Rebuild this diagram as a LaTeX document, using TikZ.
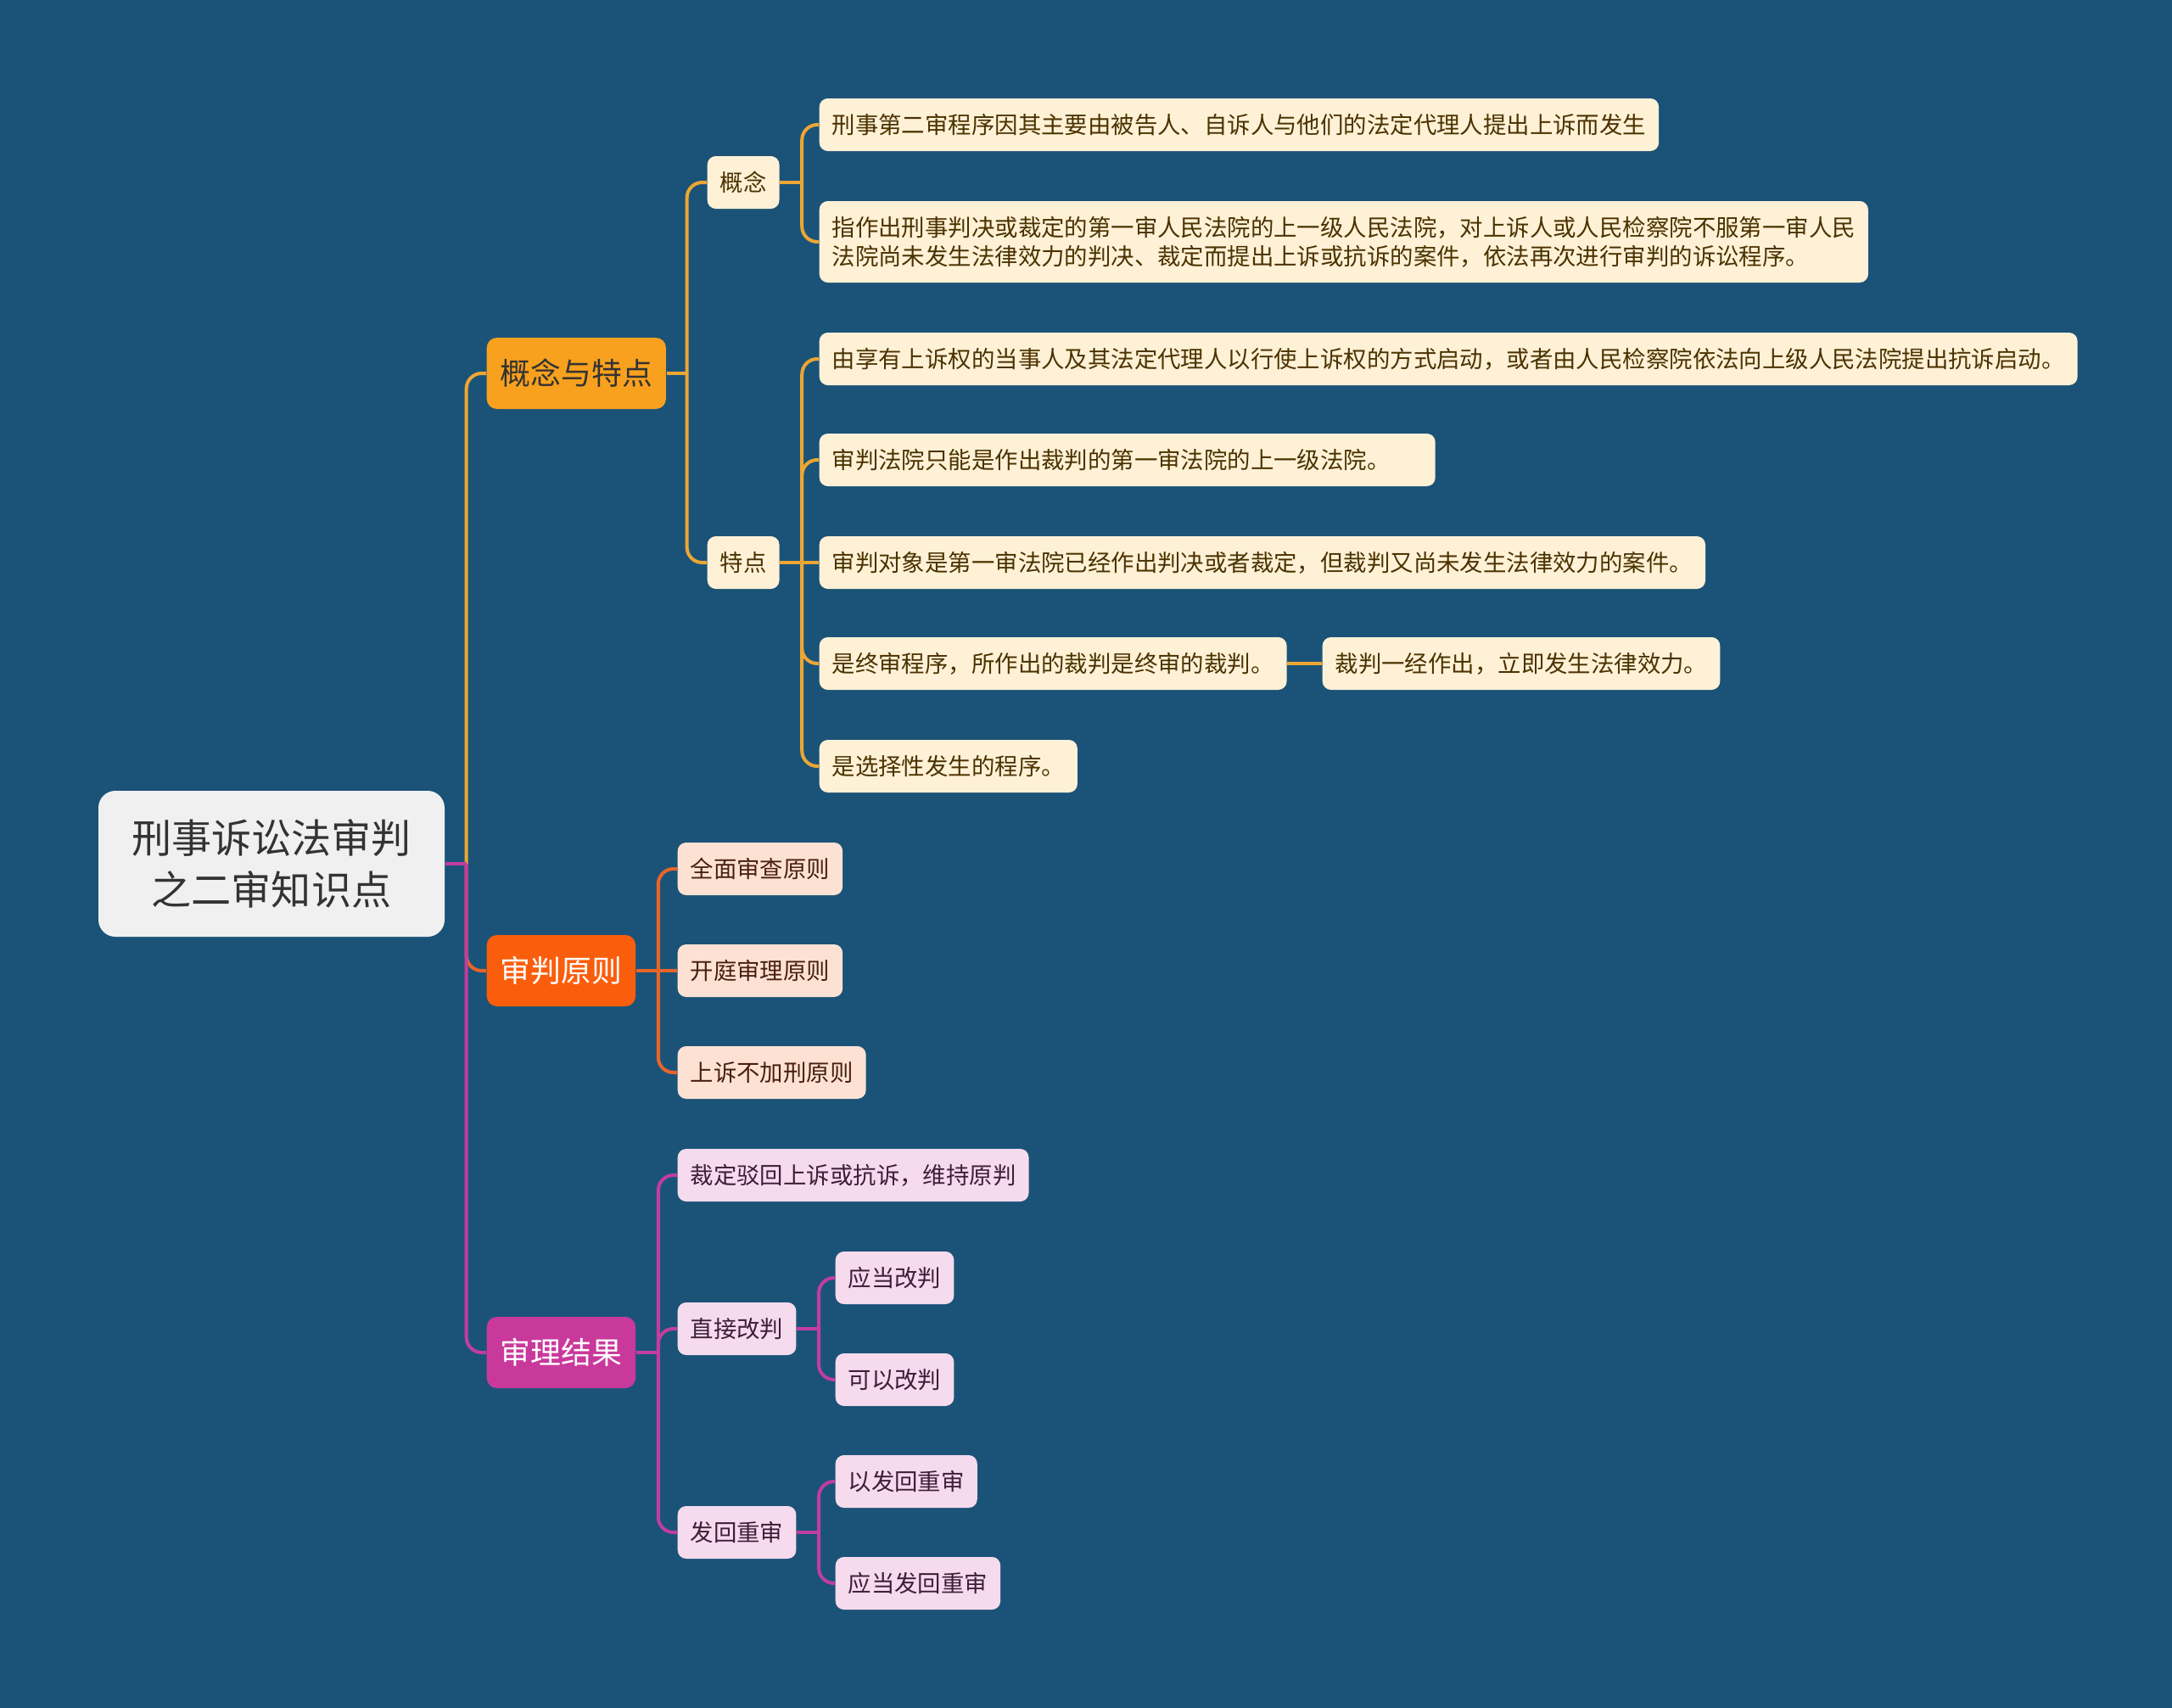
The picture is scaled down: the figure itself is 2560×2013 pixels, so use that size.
\documentclass[tikz,border=0pt]{standalone}
\usepackage{fontspec}
\setmainfont{Noto Sans CJK SC}
\definecolor{bgblue}{HTML}{1B5378}
\definecolor{rootgray}{HTML}{F0F0F0}
\definecolor{rootink}{HTML}{333333}
\definecolor{goldbox}{HTML}{F8A11E}
\definecolor{goldbr}{HTML}{EDA633}
\definecolor{creamfill}{HTML}{FFF1D6}
\definecolor{creamink}{HTML}{4B3200}
\definecolor{redbox}{HTML}{FA5E0C}
\definecolor{redbr}{HTML}{E8652A}
\definecolor{peachfill}{HTML}{FDE2D4}
\definecolor{peachink}{HTML}{4A1F10}
\definecolor{magbox}{HTML}{C9399C}
\definecolor{magbr}{HTML}{C23D9E}
\definecolor{pinkfill}{HTML}{F6DAEE}
\definecolor{pinkink}{HTML}{3D1F38}

\begin{document}
\begin{tikzpicture}[x=0.1mm, y=-0.1mm,
    root/.style = {fill=rootgray, text=rootink, rounded corners=2mm, minimum width=40.8mm, minimum height=17.2mm, align=center, font=\fontsize{13.4}{17.4}\selectfont},
    topic/.style = {anchor=west, rounded corners=1.2mm, minimum height=8.4mm, inner xsep=1.6mm, inner ysep=0pt, font=\fontsize{10.2}{12}\selectfont},
    leaf/.style = {anchor=west, rounded corners=1mm, minimum height=6.2mm, inner xsep=1.5mm, inner ysep=0pt, align=left, font=\fontsize{7.8}{9.7}\selectfont},
    goldleaf/.style = {leaf, fill=creamfill, text=creamink},
    peachleaf/.style = {leaf, fill=peachfill, text=peachink},
    pinkleaf/.style = {leaf, fill=pinkfill, text=pinkink},
    branch/.style = {line width=0.4mm, rounded corners=1.8mm},
    goldline/.style = {branch, draw=goldbr},
    redline/.style = {branch, draw=redbr},
    magline/.style = {branch, draw=magbr}]

    \fill[bgblue] (0,0) rectangle (2560,2013);
    \useasboundingbox (0,0) rectangle (2560,2013);

    % root and main topics
    \node[root] (root) at (320,1018) {刑事诉讼法审判\\之二审知识点};
    \node[topic, fill=goldbox, text=rootink] (kt) at (573,440) {概念与特点};
    \node[topic, fill=redbox, text=white] (yz) at (573,1144) {审判原则};
    \node[topic, fill=magbox, text=white] (jg) at (573,1594) {审理结果};

    % 概念与特点
    \node[goldleaf] (gn) at (833,215) {概念};
    \node[goldleaf] (td) at (833,663) {特点};
    \node[goldleaf] (gn1) at (965,147) {刑事第二审程序因其主要由被告人、自诉人与他们的法定代理人提出上诉而发生};
    \node[goldleaf, minimum height=9.6mm] (gn2) at (965,285) {指作出刑事判决或裁定的第一审人民法院的上一级人民法院，对上诉人或人民检察院不服第一审人民\\法院尚未发生法律效力的判决、裁定而提出上诉或抗诉的案件，依法再次进行审判的诉讼程序。};
    \node[goldleaf] (td1) at (965,423) {由享有上诉权的当事人及其法定代理人以行使上诉权的方式启动，或者由人民检察院依法向上级人民法院提出抗诉启动。};
    \node[goldleaf, text width=69.6mm] (td2) at (965,542) {审判法院只能是作出裁判的第一审法院的上一级法院。};
    \node[goldleaf] (td3) at (965,663) {审判对象是第一审法院已经作出判决或者裁定，但裁判又尚未发生法律效力的案件。};
    \node[goldleaf] (td4) at (965,782) {是终审程序，所作出的裁判是终审的裁判。};
    \node[goldleaf] (td4a) at (1558,782) {裁判一经作出，立即发生法律效力。};
    \node[goldleaf] (td5) at (965,903) {是选择性发生的程序。};

    % 审判原则
    \node[peachleaf] (yz1) at (798,1024) {全面审查原则};
    \node[peachleaf] (yz2) at (798,1144) {开庭审理原则};
    \node[peachleaf] (yz3) at (798,1264) {上诉不加刑原则};

    % 审理结果
    \node[pinkleaf] (jg1) at (798,1385) {裁定驳回上诉或抗诉，维持原判};
    \node[pinkleaf] (jg2) at (798,1566) {直接改判};
    \node[pinkleaf] (jg2a) at (984,1506) {应当改判};
    \node[pinkleaf] (jg2b) at (984,1626) {可以改判};
    \node[pinkleaf] (jg3) at (798,1806) {发回重审};
    \node[pinkleaf] (jg3a) at (984,1746) {以发回重审};
    \node[pinkleaf] (jg3b) at (984,1866) {应当发回重审};

    % forks
    \path (root.east) ++(25,0) coordinate (rootfork);
    \path (kt.east) ++(24,0) coordinate (ktfork);
    \path (gn.east) ++(26,0) coordinate (gnfork);
    \path (td.east) ++(26,0) coordinate (tdfork);
    \path (yz.east) ++(26,0) coordinate (yzfork);
    \path (jg.east) ++(26,0) coordinate (jgfork);
    \path (jg2.east) ++(26,0) coordinate (jg2fork);
    \path (jg3.east) ++(26,0) coordinate (jg3fork);

    % connectors
    \draw[goldline] (rootfork) |- (kt.west);
    \draw[redline] (rootfork) |- (yz.west);
    \draw[magline] (rootfork) |- (jg.west);
    \draw[magline] (root.east) -- (rootfork);

    \draw[goldline] (kt.east) -- (ktfork);
    \foreach \k in {gn,td} \draw[goldline] (ktfork) |- (\k.west);
    \draw[goldline] (gn.east) -- (gnfork);
    \foreach \k in {gn1,gn2} \draw[goldline] (gnfork) |- (\k.west);
    \draw[goldline] (td.east) -- (td3.west);
    \foreach \k in {td1,td2,td4,td5} \draw[goldline] (tdfork) |- (\k.west);
    \draw[goldline] (td4.east) -- (td4a.west);

    \draw[redline] (yz.east) -- (yz2.west);
    \foreach \k in {yz1,yz3} \draw[redline] (yzfork) |- (\k.west);

    \draw[magline] (jg.east) -- (jgfork);
    \foreach \k in {jg1,jg2,jg3} \draw[magline] (jgfork) |- (\k.west);
    \draw[magline] (jg2.east) -- (jg2fork);
    \foreach \k in {jg2a,jg2b} \draw[magline] (jg2fork) |- (\k.west);
    \draw[magline] (jg3.east) -- (jg3fork);
    \foreach \k in {jg3a,jg3b} \draw[magline] (jg3fork) |- (\k.west);
\end{tikzpicture}
\end{document}
